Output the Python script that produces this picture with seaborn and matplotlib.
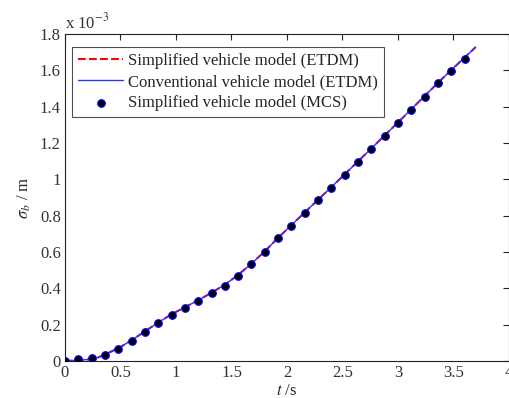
import matplotlib

matplotlib.use("Agg")
import matplotlib.pyplot as plt
import numpy as np
import seaborn as sns

# values in units of 1e-3 m
t_mcs = [0.00, 0.12, 0.24, 0.36, 0.48, 0.60, 0.72, 0.84, 0.96, 1.08, 1.20,
         1.32, 1.44, 1.56, 1.68, 1.80, 1.92, 2.04, 2.16, 2.28, 2.40, 2.52,
         2.64, 2.76, 2.88, 3.00, 3.12, 3.24, 3.36, 3.48, 3.60]
q_mcs = [0.000, 0.010, 0.015, 0.033, 0.066, 0.112, 0.160, 0.210, 0.255, 0.293, 0.330,
         0.373, 0.415, 0.470, 0.532, 0.600, 0.675, 0.745, 0.813, 0.884, 0.950, 1.024,
         1.095, 1.167, 1.238, 1.308, 1.381, 1.455, 1.528, 1.597, 1.664]

t_etdm = [0.00, 0.12, 0.24, 0.30, 0.36, 0.48, 0.60, 0.72, 0.84, 0.96, 1.08, 1.20,
          1.32, 1.44, 1.56, 1.68, 1.80, 1.92, 2.04, 2.16, 2.28, 2.40, 2.52,
          2.64, 2.76, 2.88, 3.00, 3.12, 3.24, 3.36, 3.48, 3.60, 3.70]
q_simp = [0.000, 0.004, 0.010, 0.020, 0.036, 0.070, 0.114, 0.163, 0.212, 0.257, 0.296, 0.334,
          0.376, 0.420, 0.474, 0.536, 0.604, 0.678, 0.748, 0.818, 0.888, 0.957, 1.028,
          1.099, 1.170, 1.242, 1.313, 1.386, 1.459, 1.531, 1.602, 1.670, 1.728]
q_conv = q_simp

sns.set_style("white")
plt.rcParams["font.family"] = ["Liberation Serif", "DejaVu Serif"]
plt.rcParams["mathtext.fontset"] = "stix"

fig = plt.figure(figsize=(5.09, 3.98), dpi=100)
ax = fig.add_axes([0.1277, 0.093, 0.8723, 0.8216])

sns.lineplot(x=t_etdm, y=q_simp, ax=ax, color="red", linestyle="--", linewidth=1.5,
             label="Simplified vehicle model (ETDM)")
sns.lineplot(x=t_etdm, y=q_conv, ax=ax, color="#3333ff", linewidth=1.0,
             label="Conventional vehicle model (ETDM)")
sns.scatterplot(x=t_mcs, y=q_mcs, ax=ax, color="black", edgecolor="blue", s=30,
                linewidth=0.8, label="Simplified vehicle model (MCS)", zorder=5)

ax.set_xlim(0, 4)
ax.set_ylim(0, 1.8)
ax.set_xticks(np.arange(0, 4.01, 0.5))
ax.set_xticklabels(["0", "0.5", "1", "1.5", "2", "2.5", "3", "3.5", "4"])
ax.set_yticks(np.arange(0, 1.81, 0.2))
ax.set_yticklabels(["0", "0.2", "0.4", "0.6", "0.8", "1", "1.2", "1.4", "1.6", "1.8"])
ax.tick_params(direction="in", length=4, width=0.8, labelsize=12, colors="#222222",
               top=True, right=True, labelcolor="#333333", pad=3)
for s in ax.spines.values():
    s.set_color("#222222")
    s.set_linewidth(0.8)

ax.set_xlabel("$t$ /s", fontsize=12, labelpad=1)
ax.set_ylabel(r"$\sigma_b$ / m", fontsize=12, labelpad=5)
ax.text(0.0, 1.005, r"x 10$^{-3}$", transform=ax.transAxes, fontsize=12,
        va="bottom", ha="left", color="#333333")

leg = ax.legend(loc="upper left", bbox_to_anchor=(-0.002, 0.985), fontsize=12,
                frameon=True, fancybox=False, edgecolor="#222222", borderpad=0.35,
                labelspacing=0.3, handlelength=2.7, handletextpad=0.3)
leg.get_frame().set_linewidth(0.8)

fig.savefig("out.png", dpi=100)
